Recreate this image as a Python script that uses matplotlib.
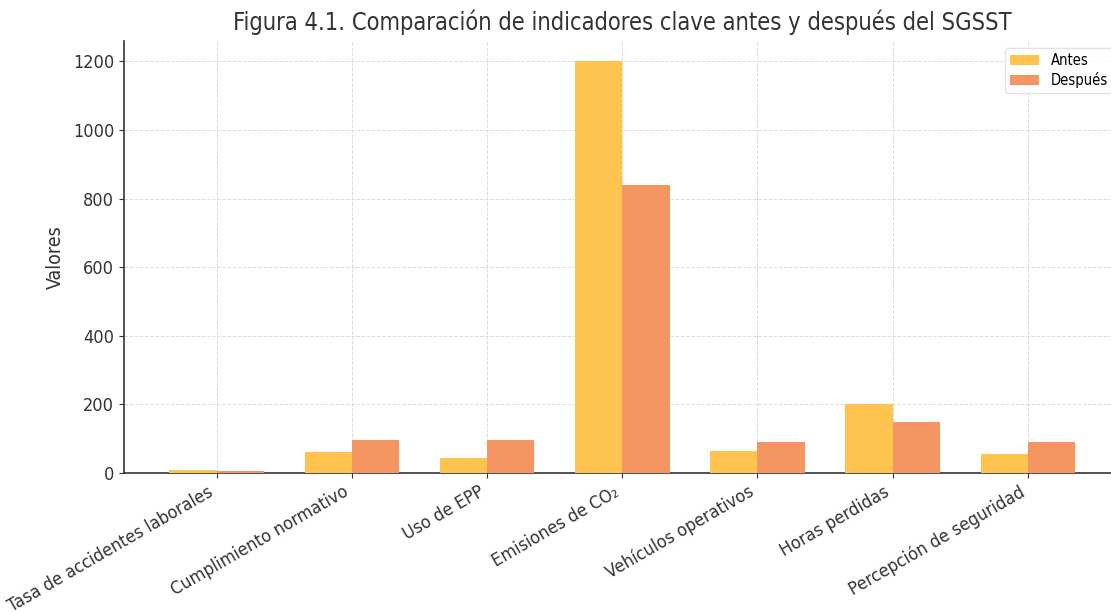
import numpy as np
import matplotlib.pyplot as plt

# Datos del gráfico
categorias = ["Tasa de accidentes laborales", "Cumplimiento normativo", "Uso de EPP",
              "Emisiones de CO₂", "Vehículos operativos", "Horas perdidas",
              "Percepción de seguridad"]
antes = [8, 60, 45, 1200, 65, 200, 55]
despues = [5, 95, 95, 840, 90, 150, 90]

plt.rcParams['font.family'] = ['DejaVu Sans']
plt.rcParams['font.stretch'] = 'condensed'

fig = plt.figure(figsize=(11.11, 6.13), dpi=100)
ax = fig.add_axes([0.1116, 0.2284, 0.897, 0.705])

x = np.arange(len(categorias))
ancho = 0.35
ax.bar(x - ancho/2, antes, ancho, label="Antes", color="#FEC44F", zorder=3)
ax.bar(x + ancho/2, despues, ancho, label="Después", color="#F59561", zorder=3)

ax.set_title("Figura 4.1. Comparación de indicadores clave antes y después del SGSST",
             fontsize=17, color="#333333", pad=8)
ax.set_ylabel("Valores", fontsize=14, color="#333333", labelpad=6)
ax.set_xticks(x)
ax.set_xticklabels(categorias, rotation=30, ha="right", fontsize=13, color="#333333")
ax.tick_params(axis="y", labelsize=13, colors="#333333")
ax.tick_params(axis="x", colors="#333333")
ax.set_ylim(0, 1260)
ax.set_xlim(-0.685, 6.685)

ax.grid(True, linestyle="--", color="#dcdcdc", linewidth=0.7, zorder=0)
for s in ["top", "right"]:
    ax.spines[s].set_visible(False)
for s in ["left", "bottom"]:
    ax.spines[s].set_color("#333333")
    ax.spines[s].set_linewidth(1.2)

ax.legend(loc="upper right", fontsize=10.5, frameon=True, edgecolor="#dddddd",
          borderaxespad=0.5, labelspacing=0.25, borderpad=0.35)

fig.savefig("out.png", dpi=100)
